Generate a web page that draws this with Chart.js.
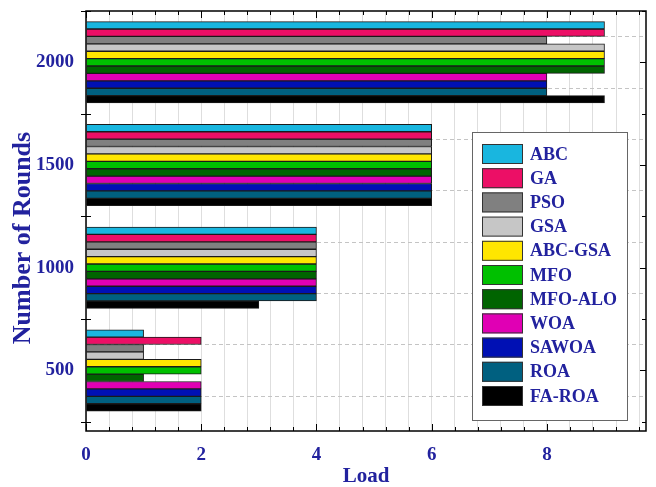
<!DOCTYPE html>
<html>
<head>
<meta charset="utf-8">
<script src="https://cdn.jsdelivr.net/npm/chart.js@4.4.0/dist/chart.umd.min.js"></script>
<style>
  html, body { margin: 0; padding: 0; background: #fff; }
  #wrap { width: 656px; height: 487px; position: relative; }
</style>
</head>
<body>
<div id="wrap"><canvas id="loadChart"></canvas></div>
<script>
// --- DATA ---
const rounds = [2000, 1500, 1000, 500];
const algorithms = ['ABC', 'GA', 'PSO', 'GSA', 'ABC-GSA', 'MFO', 'MFO-ALO', 'WOA', 'SAWOA', 'ROA', 'FA-ROA'];
// load per algorithm, same order as rounds
const abcLoad    = [9, 6, 4, 1];
const gaLoad     = [9, 6, 4, 2];
const psoLoad    = [8, 6, 4, 1];
const gsaLoad    = [9, 6, 4, 1];
const abcGsaLoad = [9, 6, 4, 2];
const mfoLoad    = [9, 6, 4, 2];
const mfoAloLoad = [9, 6, 4, 1];
const woaLoad    = [8, 6, 4, 2];
const sawoaLoad  = [8, 6, 4, 2];
const roaLoad    = [8, 6, 4, 2];
const faRoaLoad  = [9, 6, 3, 2];
const xTickLabels = [0, 2, 4, 6, 8];
const yTickLabels = [500, 1000, 1500, 2000];

const seriesValues = [abcLoad, gaLoad, psoLoad, gsaLoad, abcGsaLoad, mfoLoad, mfoAloLoad, woaLoad, sawoaLoad, roaLoad, faRoaLoad];
const barColors = ['#19b6df', '#ec0f66', '#808080', '#c6c6c6', '#ffe600', '#00c000', '#006400', '#e000b4', '#0010b4', '#006080', '#000000'];

const TEXT_COLOR = '#22229e';
const FONT = 'Liberation Serif';

// frame, inward tick marks, y title and legend
const framePlugin = {
    id: 'frame',
    afterDraw(chart) {
        const { ctx, chartArea: a, scales } = chart;
        const x = scales.x, y = scales.y;
        ctx.save();
        ctx.strokeStyle = '#000';
        ctx.lineWidth = 1;
        ctx.beginPath();
        x.ticks.forEach(t => {
            const px = Math.round(x.getPixelForValue(t.value)) + 0.5;
            const len = xTickLabels.includes(t.value) ? 7 : 4;
            ctx.moveTo(px, a.bottom); ctx.lineTo(px, a.bottom - len);
            ctx.moveTo(px, a.top); ctx.lineTo(px, a.top + len);
        });
        y.ticks.forEach(t => {
            const py = Math.round(y.getPixelForValue(t.value)) + 0.5;
            if (yTickLabels.includes(t.value)) {
                ctx.moveTo(a.right, py); ctx.lineTo(a.right - 6, py);
            } else {
                ctx.moveTo(a.left - 5, py); ctx.lineTo(a.left + 5, py);
                ctx.moveTo(a.right, py); ctx.lineTo(a.right - 4, py);
            }
        });
        ctx.stroke();
        ctx.lineWidth = 1.5;
        ctx.strokeRect(a.left, a.top, a.right - a.left, a.bottom - a.top);

        // y axis title
        ctx.save();
        ctx.translate(23, 238);
        ctx.rotate(-Math.PI / 2);
        ctx.fillStyle = TEXT_COLOR;
        ctx.font = `bold 26px "${FONT}"`;
        ctx.textAlign = 'center';
        ctx.textBaseline = 'middle';
        ctx.fillText('Number of Rounds', 0, 0);
        ctx.restore();

        // legend box
        const lx = 472, ly = 132, lw = 155, lh = 288;
        ctx.fillStyle = '#fff';
        ctx.fillRect(lx, ly, lw, lh);
        ctx.strokeStyle = '#666';
        ctx.lineWidth = 1;
        ctx.strokeRect(lx + 0.5, ly + 0.5, lw, lh);
        ctx.font = `bold 18px "${FONT}"`;
        ctx.textAlign = 'left';
        ctx.textBaseline = 'middle';
        chart.data.datasets.forEach((ds, i) => {
            const cy = 154 + i * 24.2;
            ctx.fillStyle = ds.backgroundColor;
            ctx.fillRect(482, cy - 10, 41, 20);
            ctx.strokeStyle = '#333';
            ctx.strokeRect(482.5, cy - 9.5, 40, 19);
            ctx.fillStyle = TEXT_COLOR;
            ctx.fillText(ds.label, 530, cy + 1);
        });
        ctx.restore();
    }
};

function initChart() {
    const ctx = document.getElementById('loadChart');
    new Chart(ctx, {
        type: 'bar',
        data: {
            labels: rounds,
            datasets: algorithms.map((name, i) => ({
                label: name,
                data: seriesValues[i],
                backgroundColor: barColors[i],
                borderColor: '#1a1a1a',
                borderWidth: 1,
                barThickness: 7.4
            }))
        },
        options: {
            indexAxis: 'y',
            responsive: true,
            maintainAspectRatio: false,
            animation: false,
            layout: { padding: { top: 11, right: 10, left: 0, bottom: 0 } },
            plugins: { legend: { display: false }, tooltip: { enabled: false } },
            scales: {
                x: {
                    type: 'linear',
                    min: 0, max: 9.72,
                    afterBuildTicks: s => {
                        const ticks = [];
                        for (let i = 0; i <= 24; i++) ticks.push({ value: Math.round(i * 4) / 10 });
                        s.ticks = ticks;
                    },
                    afterFit: s => { s.height = 56; s.paddingRight = 0; },
                    grid: { color: '#dedede', lineWidth: 1, drawTicks: false },
                    border: { display: false },
                    ticks: {
                        autoSkip: false, maxRotation: 0, padding: 13,
                        color: TEXT_COLOR,
                        font: { family: FONT, size: 19, weight: 'bold' },
                        callback: v => xTickLabels.includes(v) ? String(v) : ''
                    },
                    title: {
                        display: true, text: 'Load', color: TEXT_COLOR,
                        font: { family: FONT, size: 21, weight: 'bold', lineHeight: 1.0 },
                        padding: { top: 0, bottom: 0 }
                    }
                },
                y: {
                    type: 'linear',
                    offset: false,
                    min: 205, max: 2250,
                    afterBuildTicks: s => {
                        const ticks = [];
                        for (let v = 250; v <= 2250; v += 250) ticks.push({ value: v });
                        s.ticks = ticks;
                    },
                    afterFit: s => { s.width = 86; s.paddingTop = 0; s.paddingBottom = 0; },
                    grid: { color: '#c4c4c4', lineWidth: 1, drawTicks: false },
                    border: { display: false, dash: [4, 3] },
                    ticks: {
                        autoSkip: false, padding: 12,
                        color: TEXT_COLOR,
                        font: { family: FONT, size: 19, weight: 'bold' },
                        callback: v => yTickLabels.includes(v) ? String(v) : ''
                    }
                }
            }
        },
        plugins: [framePlugin]
    });
}

window.addEventListener('DOMContentLoaded', initChart);
</script>
</body>
</html>
